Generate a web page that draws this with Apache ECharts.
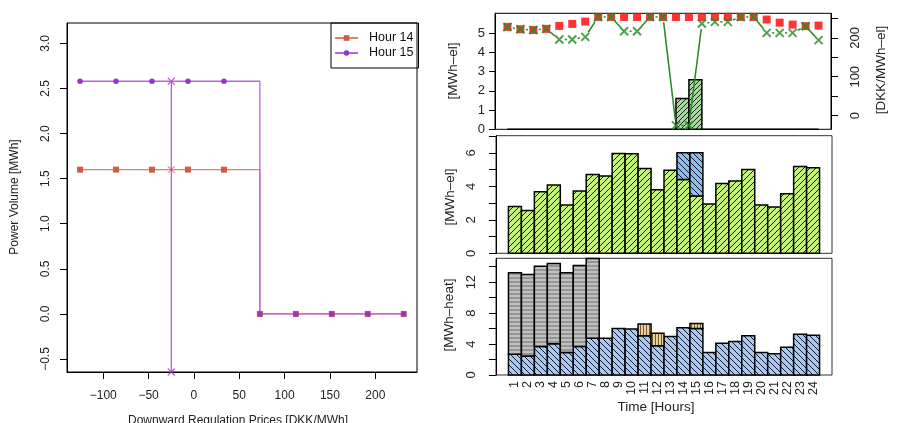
<!DOCTYPE html>
<html><head><meta charset="utf-8">
<script src="https://cdn.jsdelivr.net/npm/echarts@6/dist/echarts.min.js"></script>
<style>html,body{margin:0;padding:0;background:#fff}#c{width:899px;height:423px}</style>
</head><body><div id="c"></div>
<script>
// ---------------- data ----------------
const regPrices   = [-125.6, -85.9, -46.3, -6.6, 33.1, 72.7, 112.4, 152.0, 191.7, 231.3];
const hour14Vol   = [1.6, 1.6, 1.6, 1.6, 1.6, 0, 0, 0, 0, 0];
const hour15Vol   = [2.58, 2.58, 2.58, 2.58, 2.58, 0, 0, 0, 0, 0];
const actualDownPrice = -25;
const leftXTicks  = [-100, -50, 0, 50, 100, 150, 200];
const leftYTicks  = [-0.5, 0, 0.5, 1.0, 1.5, 2.0, 2.5, 3.0];

const hours       = [1,2,3,4,5,6,7,8,9,10,11,12,13,14,15,16,17,18,19,20,21,22,23,24];
const regVolume   = [0,0,0,0,0,0,0,0,0,0,0,0,0,1.6,2.58,0,0,0,0,0,0,0,0,0];
const elCHP       = [2.8,2.56,3.68,4.08,2.88,3.72,4.7,4.62,5.96,5.94,5.06,3.8,4.96,4.4,3.42,2.94,4.16,4.32,5.0,2.88,2.76,3.56,5.18,5.1];
const heatCHP     = [2.68,2.47,3.68,4.03,2.9,3.68,4.76,4.76,6.02,5.93,5.06,3.77,4.98,6.1,6.02,2.9,4.11,4.33,5.06,2.9,2.73,3.59,5.28,5.15];
const heatBoiler  = [10.52,10.52,10.38,10.38,10.3,10.47,10.29,0,0,0,0,0,0,0,0,0,0,0,0,0,0,0,0,0];
const heatStorage = [0,0,0,0,0,0,0,0,0,0,1.52,1.61,0,0,0.65,0,0,0,0,0,0,0,0,0];
const priceHours  = [0,1,2,3,4,5,6,7,8,9,10,11,12,13,14,15,16,17,18,19,20,21,22,23,24];
const spotPrice   = [228,222,220,223,230.6,235.7,241.7,253.6,253.6,253.6,253.6,253.6,253.6,253.6,253.6,253.6,253.6,253.6,253.6,253.6,247,239,234,230,231.5];
const downPrice   = [228,222,220,223,195.7,195.7,202.5,253.6,253.6,217,217,253.6,253.6,-25,-25,236.6,240.9,240.9,253.6,253.6,212.8,212.8,212.8,229.8,194];
const topYTicks   = [0,1,2,3,4,5];
const priceTicks  = [0,50,100,150,200,250];
const priceLabels = [0,100,200];
const midTicks    = [0,1,2,3,4,5,6,7];
const midLabels   = [0,2,4,6];
const botTicks    = [0,2,4,6,8,10,12,14];
const botLabels   = [0,4,8,12];

// ---------------- helpers ----------------
const FONT = "'Liberation Sans', Arial, Helvetica, sans-serif";
const minus = s => String(s).replace('-', '\u2212');
function hatch(bg, line, type, step, lw) {
  const c = document.createElement('canvas'); c.width = step; c.height = step;
  const g = c.getContext('2d'); g.fillStyle = bg; g.fillRect(0,0,step,step);
  g.strokeStyle = line; g.lineWidth = lw; g.beginPath();
  if (type === '/') { for (let k=-1;k<=1;k++){ g.moveTo(k*step, step); g.lineTo(k*step+step, 0);} }
  else if (type === '\\') { for (let k=-1;k<=1;k++){ g.moveTo(k*step, 0); g.lineTo(k*step+step, step);} }
  else if (type === '-') { g.moveTo(0, step/2); g.lineTo(step, step/2); }
  else if (type === '|') { g.moveTo(step/2, 0); g.lineTo(step/2, step); }
  g.stroke(); return c;
}
const pTop   = hatch('#a9d6a3', '#1a2a1a', '/', 5, 1);
const pGreen = hatch('#c4f47e', '#1a1a1a', '/', 6, 1);
const pBlueM = hatch('#8fbcea', '#101828', '\\', 6, 1);
const pBlueB = hatch('#a9c8f4', '#101828', '\\', 6, 1);
const pGray  = hatch('#c0c0c0', '#7a7a7a', '-', 4, 1.2);
const pTan   = hatch('#efd291', '#6a5a3a', '|', 3, 1);

function barSeries(name, xi, yi, pattern, bottoms, heights, keepZero) {
  const data = [];
  hours.forEach((h, i) => {
    if (heights[i] > 0 || keepZero) data.push([h, bottoms[i], bottoms[i] + heights[i]]);
  });
  return {
    type: 'custom', name, xAxisIndex: xi, yAxisIndex: yi, data, clip: false,
    renderItem(params, api) {
      const h = api.value(0), y0 = api.value(1), y1 = api.value(2);
      const a = api.coord([h - 1, y1]), b = api.coord([h, y0]);
      return { type: 'rect', shape: { x: a[0], y: a[1], width: b[0]-a[0], height: b[1]-a[1] },
        style: { fill: { image: pattern, repeat: 'repeat' }, stroke: '#000', lineWidth: 1.5 } };
    }
  };
}
const zeros = hours.map(() => 0);
const heatWithStorage = heatCHP.map((v, i) => v + heatStorage[i]);

const xPath = 'path://M0,0L10,10M10,0L0,10';
const yMinLeft = -0.644;
const axLine = { show: true, onZero: false, lineStyle: { color: '#000' } };

const option = {
  animation: false,
  textStyle: { fontFamily: FONT },
  grid: [
    { left: 67, top: 23, width: 350, height: 349, show: true, borderColor: '#000', borderWidth: 1, backgroundColor: 'transparent' },
    { left: 495, top: 13.3, width: 336, height: 116, show: true, borderColor: '#000', borderWidth: 1 },
    { left: 496, top: 135.7, width: 336, height: 117.6, show: true, borderColor: '#333', borderWidth: 1 },
    { left: 496, top: 258.3, width: 336, height: 116.7, show: true, borderColor: '#333', borderWidth: 1 }
  ],
  xAxis: [
    { gridIndex: 0, type: 'value', min: -140, max: 246,
      axisLine: axLine,
      axisTick: { show: true, length: 7, customValues: leftXTicks, lineStyle: { color: '#000' } },
      axisLabel: { customValues: leftXTicks, margin: 18, fontSize: 12, color: '#222', fontFamily: FONT, formatter: v => minus(v) },
      splitLine: { show: false } },
    { gridIndex: 1, type: 'value', min: -0.96, max: 24.96, show: false, axisLine: { onZero: false }, splitLine: { show: false } },
    { gridIndex: 2, type: 'value', min: -0.96, max: 24.96, show: false, axisLine: { onZero: false }, splitLine: { show: false } },
    { gridIndex: 3, type: 'value', min: -0.96, max: 24.96,
      axisLine: { show: false, onZero: false }, axisTick: { show: false }, splitLine: { show: false },
      axisLabel: { customValues: hours.map(h => h - 0.5), rotate: 90, margin: 6, fontSize: 12.5, color: '#222', fontFamily: FONT,
        formatter: v => String(Math.round(v + 0.5)) } }
  ],
  yAxis: [
    { gridIndex: 0, type: 'value', min: yMinLeft, max: 3.226,
      axisLine: axLine,
      axisTick: { show: true, length: 7, customValues: leftYTicks, lineStyle: { color: '#000' } },
      axisLabel: { customValues: leftYTicks, rotate: 90, margin: 15, fontSize: 12, color: '#222', fontFamily: FONT, formatter: v => minus(v.toFixed(1)) },
      splitLine: { show: false } },
    { gridIndex: 1, type: 'value', min: 0, max: 6.03,
      axisLine: axLine,
      axisTick: { show: true, length: 6, customValues: topYTicks, lineStyle: { color: '#000' } },
      axisLabel: { customValues: topYTicks, margin: 10, fontSize: 13, color: '#222', fontFamily: FONT },
      splitLine: { show: false } },
    { gridIndex: 1, type: 'value', position: 'right', min: -35, max: 263,
      axisLine: axLine,
      axisTick: { show: true, length: 7, customValues: priceTicks, lineStyle: { color: '#000' } },
      axisLabel: { customValues: priceLabels, rotate: 90, margin: 18, fontSize: 13, color: '#222', fontFamily: FONT },
      splitLine: { show: false } },
    { gridIndex: 2, type: 'value', min: 0, max: 7.02,
      axisLine: axLine,
      axisTick: { show: true, length: 7, customValues: midTicks, lineStyle: { color: '#000' } },
      axisLabel: { customValues: midLabels, rotate: 90, margin: 18, fontSize: 13, color: '#222', fontFamily: FONT },
      splitLine: { show: false } },
    { gridIndex: 3, type: 'value', min: 0, max: 15.08,
      axisLine: axLine,
      axisTick: { show: true, length: 7, customValues: botTicks, lineStyle: { color: '#000' } },
      axisLabel: { customValues: botLabels, rotate: 90, margin: 18, fontSize: 13, color: '#222', fontFamily: FONT },
      splitLine: { show: false } }
  ],
  legend: {
    left: 331, top: 23, orient: 'vertical', selectedMode: false,
    data: ['Hour 14', 'Hour 15'],
    padding: [8, 5, 8, 3], itemGap: 1, itemWidth: 23, itemHeight: 7,
    borderColor: '#000', borderWidth: 1, borderRadius: 0,
    textStyle: { fontSize: 12.5, color: '#111', fontFamily: FONT, padding: [0, 0, 0, 6], lineHeight: 14 }
  },
  series: [
    // ---- left panel ----
    { name: 'Hour 14', type: 'line', xAxisIndex: 0, yAxisIndex: 0, step: 'end',
      data: regPrices.map((p, i) => [p, hour14Vol[i]]),
      symbol: 'rect', symbolSize: 6, itemStyle: { color: '#cd5b45' },
      lineStyle: { color: '#e07e6a', width: 1.3 } },
    { name: 'Hour 15', type: 'line', xAxisIndex: 0, yAxisIndex: 0, step: 'end',
      data: regPrices.map((p, i) => [p, hour15Vol[i]]),
      symbol: 'circle', symbolSize: 5.5, itemStyle: { color: '#9a32cd' },
      lineStyle: { color: '#b866dc', width: 1.3 } },
    { name: 'down14', type: 'line', xAxisIndex: 0, yAxisIndex: 0, symbol: 'none',
      data: [[actualDownPrice, hour15Vol[0]], [actualDownPrice, yMinLeft]],
      lineStyle: { color: '#9a32cd', width: 1 } },
    { name: 'x14', type: 'scatter', xAxisIndex: 0, yAxisIndex: 0, clip: false,
      data: [[actualDownPrice, hour14Vol[0]]], symbol: xPath, symbolSize: 7,
      itemStyle: { color: 'transparent', borderColor: '#e0708a', borderWidth: 1.2 } },
    { name: 'x15', type: 'scatter', xAxisIndex: 0, yAxisIndex: 0, clip: false,
      data: [[actualDownPrice, hour15Vol[0]], [actualDownPrice, yMinLeft]], symbol: xPath, symbolSize: 7,
      itemStyle: { color: 'transparent', borderColor: '#b040c8', borderWidth: 1.2 } },
    // ---- top right panel ----
    barSeries('reg', 1, 1, pTop, zeros, regVolume, true),
    { name: 'spot', type: 'scatter', xAxisIndex: 1, yAxisIndex: 2, clip: false,
      data: priceHours.map((h, i) => [h, spotPrice[i]]), symbol: 'rect', symbolSize: 8,
      itemStyle: { color: '#ff0000' } },
    { name: 'downline', type: 'custom', xAxisIndex: 1, yAxisIndex: 2, clip: false,
      data: priceHours.slice(0, -1).map((h, i) => [h, downPrice[i], priceHours[i+1], downPrice[i+1]]),
      renderItem(params, api) {
        const a = api.coord([api.value(0), api.value(1)]);
        const b = api.coord([api.value(2), api.value(3)]);
        const dx = b[0]-a[0], dy = b[1]-a[1], L = Math.hypot(dx, dy), gap = 5.5;
        if (L <= 2*gap) return { type: 'group', children: [] };
        const ux = dx/L, uy = dy/L;
        return { type: 'line', shape: { x1: a[0]+ux*gap, y1: a[1]+uy*gap, x2: b[0]-ux*gap, y2: b[1]-uy*gap },
          style: { stroke: '#228b22', lineWidth: 1.5 } };
      } },
    { name: 'down', type: 'scatter', xAxisIndex: 1, yAxisIndex: 2, clip: false,
      data: priceHours.map((h, i) => [h, downPrice[i]]), symbol: xPath, symbolSize: 8,
      itemStyle: { color: 'transparent', borderColor: '#228b22', borderWidth: 2 } },
    // ---- middle panel ----
    barSeries('elCHP', 2, 3, pGreen, zeros, elCHP, true),
    barSeries('elReg', 2, 3, pBlueM, elCHP, regVolume, false),
    // ---- bottom panel ----
    barSeries('heatCHP', 3, 4, pBlueB, zeros, heatCHP, true),
    barSeries('heatStorage', 3, 4, pTan, heatCHP, heatStorage, false),
    barSeries('heatBoiler', 3, 4, pGray, heatWithStorage, heatBoiler, false)
  ],
  graphic: [
    { type: 'text', x: 15, y: 197, rotation: Math.PI/2, style: { text: 'Power Volume [MWh]', fontSize: 12, fontFamily: FONT, fill: '#222', align: 'center', verticalAlign: 'middle', textAlign: 'center', textVerticalAlign: 'middle' } },
    { type: 'text', x: 238, y: 421, style: { text: 'Downward Regulation Prices [DKK/MWh]', fontSize: 12, fontFamily: FONT, fill: '#222', align: 'center', verticalAlign: 'middle', textAlign: 'center', textVerticalAlign: 'middle' } },
    { type: 'text', x: 453, y: 71, rotation: Math.PI/2, style: { text: '[MWh\u2013el]', fontSize: 13.5, fontFamily: FONT, fill: '#222', align: 'center', verticalAlign: 'middle', textAlign: 'center', textVerticalAlign: 'middle' } },
    { type: 'text', x: 450, y: 197, rotation: Math.PI/2, style: { text: '[MWh\u2013el]', fontSize: 13.5, fontFamily: FONT, fill: '#222', align: 'center', verticalAlign: 'middle', textAlign: 'center', textVerticalAlign: 'middle' } },
    { type: 'text', x: 449, y: 315, rotation: Math.PI/2, style: { text: '[MWh\u2013heat]', fontSize: 13.5, fontFamily: FONT, fill: '#222', align: 'center', verticalAlign: 'middle', textAlign: 'center', textVerticalAlign: 'middle' } },
    { type: 'text', x: 881, y: 70, rotation: Math.PI/2, style: { text: '[DKK/MWh\u2013el]', fontSize: 13.5, fontFamily: FONT, fill: '#222', align: 'center', verticalAlign: 'middle', textAlign: 'center', textVerticalAlign: 'middle' } },
    { type: 'text', x: 656, y: 407, style: { text: 'Time [Hours]', fontSize: 13.5, fontFamily: FONT, fill: '#222', align: 'center', verticalAlign: 'middle', textAlign: 'center', textVerticalAlign: 'middle' } }
  ]
};
const chart = echarts.init(document.getElementById('c'), null, { renderer: 'canvas' });
chart.setOption(option);
</script></body></html>
